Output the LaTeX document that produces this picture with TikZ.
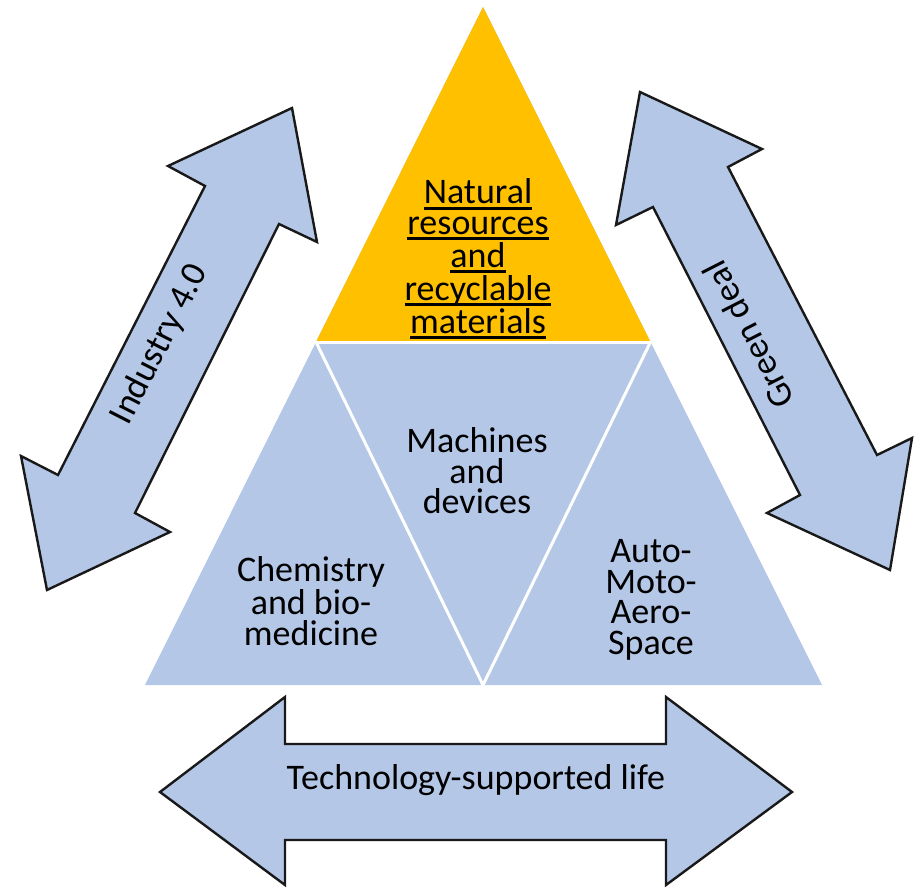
\documentclass[tikz,border=0pt]{standalone}
\usepackage{fontspec}
\setmainfont{Carlito}
\usepackage{tikz}
\usepackage{xcolor}
\usetikzlibrary{positioning}
\definecolor{gold}{HTML}{FFC000}
\definecolor{paleblue}{HTML}{B4C7E7}
\newcommand{\uln}[1]{\setbox0\hbox{#1}\rlap{\rule[-3pt]{\wd0}{1.5pt}}\box0}

\begin{document}
\begin{tikzpicture}[x=0.5pt,y=-0.5pt,
  lbl/.style={font=\fontsize{18}{15.25}\selectfont, align=center, text=black},
  band/.style={draw=black!90, line width=1.2pt, fill=paleblue, line join=miter},
  divider/.style={white, line width=1.5pt}]
\tikzstyle{every node}+=[inner sep=0pt]
\useasboundingbox (0,0) rectangle (916,888);
% pyramid
\fill [paleblue] (483,7) -- (822,685) -- (145,685) -- cycle;
\fill [gold] (483,7) -- (650.5,342) -- (316,342) -- cycle;
\draw [divider] (316,342) -- (650.5,342);
\draw [divider] (316,342) -- (483,685) -- (650.5,342);
\node [lbl] (natural) at (478,259) {\uln{Natural}\\\uln{resources}\\\uln{and}\\\uln{recyclable}\\\uln{materials}};
\node [lbl] (machines) at (477,471) {Machines\\and\\devices};
\node [lbl] (chemistry) at (311,601) {Chemistry\\and bio-\\medicine};
\node [lbl] (auto) at (651,600) {Auto-\\Moto-\\Aero-\\Space};
% double arrows
\draw [band] (292,108) -- (317,242) -- (279,224) -- (135,513) -- (170,532) -- (47,590) -- (21,456) -- (58,475) -- (205,186) -- (168,166) -- cycle;
\node [lbl, rotate=63] (industry) at (160,344) {Industry 4.0};
\draw [band] (640,92) -- (762,149) -- (728,167) -- (877,455) -- (912,438) -- (890,570) -- (767,513) -- (800,495) -- (653,207) -- (616,225) -- cycle;
\node [lbl, rotate=117] (green) at (748,335) {Green deal};
\draw [band] (160,792) -- (285,697) -- (285,744) -- (666,744) -- (666,697) -- (792,792) -- (666,885) -- (666,840) -- (285,840) -- (285,885) -- cycle;
\node [lbl] (life) at (476,780) {Technology-supported life};
\end{tikzpicture}
\end{document}
